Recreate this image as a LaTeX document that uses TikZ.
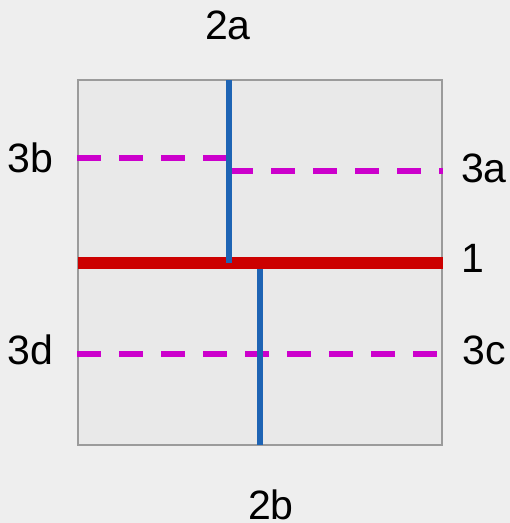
\documentclass[tikz,border=0pt]{standalone}
\usepackage{fontspec}
\setmainfont{Liberation Sans}
\definecolor{bgout}{RGB}{238,238,238}
\definecolor{bgin}{RGB}{233,233,233}
\definecolor{frame}{RGB}{155,155,155}
\definecolor{cutred}{RGB}{204,0,0}
\definecolor{cutblue}{RGB}{30,100,180}
\definecolor{cutmag}{RGB}{204,0,204}
\tikzset{
  lbl/.style={anchor=base, inner sep=0pt, font=\fontsize{41}{45}\selectfont},
  redcut/.style={draw=cutred, line width=12pt},
  bluecut/.style={draw=cutblue, line width=6pt},
  magcut/.style={draw=cutmag, line width=6pt, dash pattern=on 24pt off 18pt},
}
\begin{document}
\begin{tikzpicture}[x=1pt,y=-1pt]
\fill[bgout] (0,0) rectangle (510,523);
\useasboundingbox (0,0) rectangle (510,523);
\draw[frame, fill=bgin, line width=2pt] (78,80) rectangle (442,445);
% coordinates
\coordinate (L3b) at (77,157.5);
\coordinate (R3b) at (229,157.5);
\coordinate (L3a) at (229,171);
\coordinate (R3a) at (442.5,171);
\coordinate (L3d) at (77,354);
\coordinate (R3d) at (442.5,354);
\coordinate (L1) at (78,263);
\coordinate (R1) at (442.5,263);
\coordinate (T2a) at (229,80);
\coordinate (B2a) at (229,263);
\coordinate (T2b) at (260.3,269);
\coordinate (B2b) at (260.3,445);
% cuts
\draw[magcut] (L3b) -- (R3b);
\draw[magcut] (L3a) -- (R3a);
\draw[magcut] (L3d) -- (R3d);
\draw[redcut] (L1) -- (R1);
\draw[bluecut] (T2a) -- (B2a);
\draw[bluecut] (T2b) -- (B2b);
% labels
\node[lbl] (n2a) at (228,39.3) {2a};
\node[lbl] (n3b) at (30.5,172.5) {3b};
\node[lbl] (n3a) at (484,182.5) {3a};
\node[lbl] (n1) at (473,272.5) {1};
\node[lbl] (n3d) at (30.5,364.5) {3d};
\node[lbl] (n3c) at (484,364.5) {3c};
\node[lbl] (n2b) at (271,519.5) {2b};
\end{tikzpicture}
\end{document}
